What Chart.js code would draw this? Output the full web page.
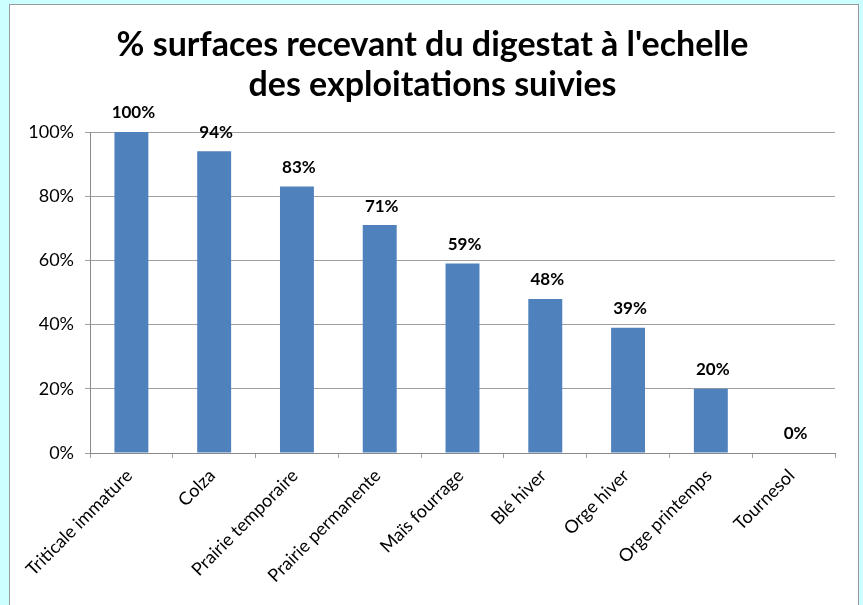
<!DOCTYPE html>
<html><head><meta charset="utf-8">
<script src="https://cdn.jsdelivr.net/npm/chart.js@4"></script>
<style>
html,body{margin:0;padding:0;background:#ccffff;width:863px;height:605px;overflow:hidden;}
#frame{position:absolute;left:9px;top:4px;width:850px;height:640px;background:#fff;border:1px solid #9a9a9a;box-sizing:border-box;}
#wrap{position:absolute;left:0;top:0;width:863px;height:605px;}
</style></head><body>
<div id="frame"></div>
<div id="wrap"><canvas id="c"></canvas></div>
<script>
const categories = ["Triticale immature","Colza","Prairie temporaire","Prairie permanente","Maïs fourrage","Blé hiver","Orge hiver","Orge printemps","Tournesol"];
const values = [100,94,83,71,59,48,39,20,0];
const yTicks = [0,20,40,60,80,100];
const titleLines = ["% surfaces recevant du digestat à l'echelle","des exploitations suivies"];

const valueLabels = {
  id:'valueLabels',
  afterDatasetsDraw(chart){
    const ctx = chart.ctx; const meta = chart.getDatasetMeta(0);
    ctx.save();
    ctx.font = 'bold 17px Lato'; ctx.fillStyle = '#000';
    ctx.textAlign = 'center'; ctx.textBaseline = 'middle';
    meta.data.forEach((bar,i)=>{ ctx.fillText(values[i] + '%', bar.x + 2, bar.y - 19); });
    ctx.restore();
  }
};

new Chart(document.getElementById('c'), {
  type: 'bar',
  data: { labels: categories, datasets: [{ data: values, backgroundColor: '#4f81bd', barPercentage: 0.41, categoryPercentage: 1 }] },
  options: {
    responsive: true, maintainAspectRatio: false, animation: false,
    layout: { padding: { top: 0, right: 28, bottom: 0, left: 30 } },
    plugins: {
      legend: { display: false }, tooltip: { enabled: false },
      title: { display: true, text: titleLines, color: '#000', font: { family: 'Lato', size: 34, weight: 'bold', lineHeight: '40px' }, padding: { top: 25, bottom: 27 } }
    },
    scales: {
      y: {
        min: 0, max: 100,
        afterBuildTicks: s => { s.ticks = yTicks.map(v => ({ value: v })); },
        afterFit: s => { s.width = 60; },
        ticks: { callback: v => v + '%', color: '#000', font: { family: 'Lato', size: 18 }, padding: 11 },
        grid: { color: '#a0a0a0', tickLength: 5 },
        border: { color: '#8a8a8a' }
      },
      x: {
        afterFit: s => { s.height = 152; },
        ticks: { maxRotation: 45, minRotation: 45, autoSkip: false, color: '#000', font: { family: 'Lato', size: 18 }, padding: 7, labelOffset: -2 },
        grid: { drawOnChartArea: false, tickLength: 5, color: '#a0a0a0', offset: true },
        border: { color: '#8a8a8a' }
      }
    }
  },
  plugins: [valueLabels]
});
</script>
</body></html>
